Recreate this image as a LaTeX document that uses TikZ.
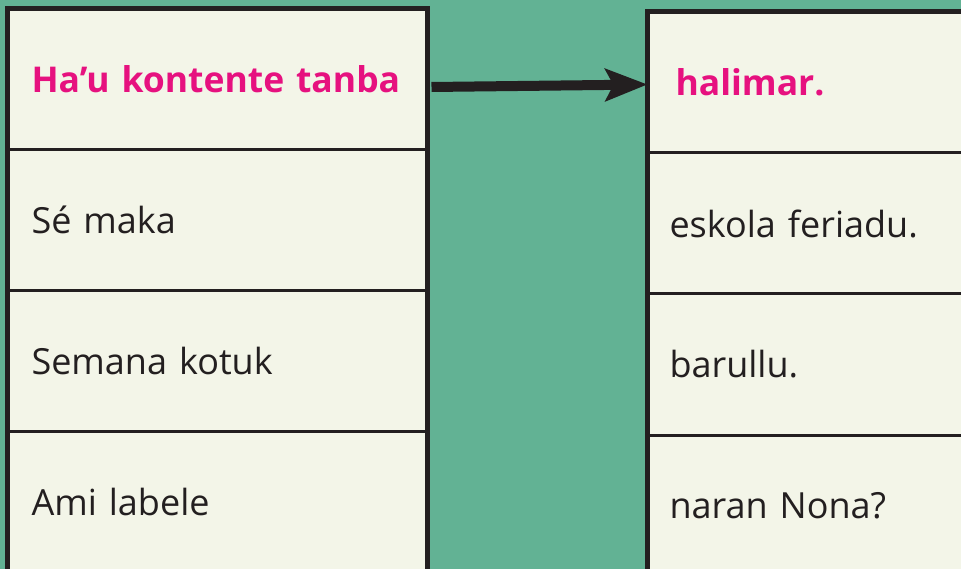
\documentclass[tikz,border=0pt]{standalone}
\usepackage{fontspec}
\setmainfont{Open Sans}
\usetikzlibrary{positioning, arrows.meta}

\definecolor{bggreen}{RGB}{98,178,148}
\definecolor{cream}{RGB}{243,245,232}
\definecolor{ink}{RGB}{35,31,32}
\definecolor{hotpink}{RGB}{230,17,127}

\tikzset{
	cell/.style={rectangle, draw=ink, line width=3pt, fill=cream, anchor=north west,
		minimum height=141pt, inner ysep=0pt, outer sep=0pt, align=left, text=ink,
		font=\fontsize{36}{42}\selectfont},
	leftcell/.style={cell, inner xsep=24pt, text width=372pt},
	rightcell/.style={cell, inner xsep=22pt, text width=286pt},
	headtxt/.style={text=hotpink, font=\fontsize{35.5}{42}\selectfont\bfseries},
	frame/.style={draw=ink, line width=5pt}
}

\begin{document}
\begin{tikzpicture}[x=1pt, y=-1pt, node distance=0pt]
	
	\useasboundingbox (0,0) rectangle (961,569);
	\clip (0,0) rectangle (961,569);
	\fill[bggreen] (0,0) rectangle (961,569);
	
	% Left column
	\node[leftcell, headtxt] (L1) at (7.5,8.5) {Ha’u kontente tanba};
	\node[leftcell, below=of L1.south west, anchor=north west] (L2) {Sé maka};
	\node[leftcell, below=of L2.south west, anchor=north west] (L3) {Semana kotuk};
	\node[leftcell, below=of L3.south west, anchor=north west] (L4) {Ami labele};
	\draw[frame] (L1.north west) rectangle (L4.south east);
	
	% Right column
	\node[rightcell, headtxt, inner xsep=28pt, text width=274pt] (R1) at (647.5,12) {halimar.};
	\node[rightcell, below=of R1.south west, anchor=north west] (R2) {eskola feriadu.};
	\node[rightcell, below=of R2.south west, anchor=north west] (R3) {barullu.};
	\node[rightcell, below=of R3.south west, anchor=north west] (R4) {naran Nona?};
	\draw[frame] (R1.north west) rectangle (R4.south east);
	
	% Arrow
	\draw[-{Stealth[length=42pt, width=32pt, inset=8pt]}, line width=10pt, draw=ink]
		([xshift=4pt, yshift=-8pt]L1.east) -- ([yshift=-2pt]R1.west);
	
\end{tikzpicture}
\end{document}
